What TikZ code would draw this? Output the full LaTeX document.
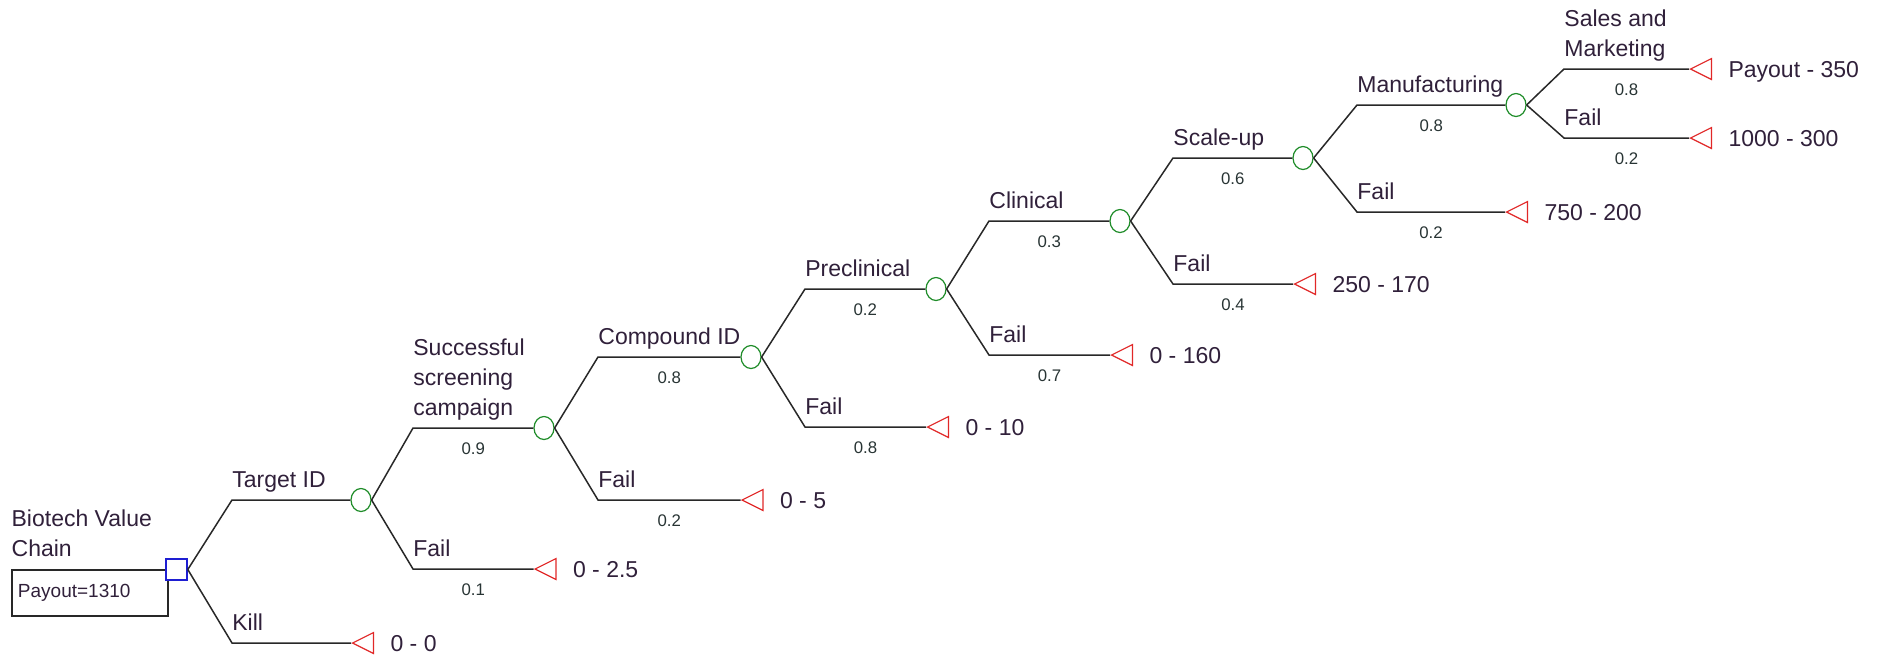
\documentclass[tikz,border=0pt]{standalone}
\usepackage{fontspec}
\setmainfont{Liberation Sans}
\usetikzlibrary{shapes.geometric,positioning}
\definecolor{linegray}{RGB}{40,40,40}
\definecolor{txtdark}{RGB}{48,32,58}
\definecolor{probgray}{RGB}{40,52,52}
\definecolor{decblue}{RGB}{30,30,210}
\definecolor{chancegreen}{RGB}{30,140,40}
\definecolor{endred}{RGB}{225,40,40}
\begin{document}
\begin{tikzpicture}[x=0.5pt,y=-0.5pt,
    branch/.style={draw=linegray,line width=0.75pt},
    decnode/.style={rectangle,draw=decblue,fill=white,line width=0.8pt,minimum size=10.5pt,inner sep=0pt},
    chance/.style={ellipse,draw=chancegreen,fill=white,line width=0.6pt,minimum width=10pt,minimum height=11.5pt,inner sep=0pt},
    endnode/.style={isosceles triangle,isosceles triangle stretches,shape border rotate=180,draw=endred,line width=0.6pt,minimum width=10.5pt,minimum height=10.5pt,inner sep=0pt,anchor=west},
    brlabel/.style={font=\fontsize{11.5}{15}\selectfont,text=txtdark,inner sep=0pt,align=left,text depth=0pt},
    valtext/.style={font=\fontsize{11.5}{14}\selectfont,text=txtdark,inner sep=0pt,text depth=0pt},
    prob/.style={font=\fontsize{8.4}{10}\selectfont,text=probgray,inner sep=0pt,yshift=-10.5pt},
    paybox/.style={draw=linegray,line width=0.75pt,minimum height=23pt,text width=72pt,inner xsep=3pt,inner ysep=0pt,align=left,font=\fontsize{9.5}{11}\selectfont,text=txtdark}]
    \useasboundingbox (0,0) rectangle (1887,655);

    % Decision node with payout box
    \node[paybox] (pay) at (90,593) {Payout=1310};
    \node[brlabel, above right=6pt and 0pt of pay.north west] (title) {Biotech Value\\Chain};
    \node[decnode] (dec) at (176.5,569.5) {};

    % Chance nodes
    \node[chance] (target) at (361,500) {};
    \node[chance] (screen) at (544,428) {};
    \node[chance] (compound) at (751,357) {};
    \node[chance] (preclin) at (936,289) {};
    \node[chance] (clinical) at (1120,221) {};
    \node[chance] (scaleup) at (1303,158) {};
    \node[chance] (manuf) at (1516,105) {};

    % End nodes
    \node[endnode] (e-kill) at (351,643) {};
    \node[endnode] (e-target) at (533.5,569) {};
    \node[endnode] (e-screen) at (740.5,500) {};
    \node[endnode] (e-compound) at (926,427) {};
    \node[endnode] (e-preclin) at (1110,355) {};
    \node[endnode] (e-clinical) at (1293,284) {};
    \node[endnode] (e-scaleup) at (1505,212) {};
    \node[endnode] (e-sales) at (1689,69) {};
    \node[endnode] (e-manuf) at (1689,138) {};

    % Branch corners
    \coordinate (k-target) at (232,500);
    \coordinate (k-kill) at (232,643);
    \coordinate (k-screen) at (413,428);
    \coordinate (k-tfail) at (413,569);
    \coordinate (k-compound) at (598,357);
    \coordinate (k-sfail) at (598,500);
    \coordinate (k-preclin) at (805,289);
    \coordinate (k-cfail) at (805,427);
    \coordinate (k-clinical) at (989,221);
    \coordinate (k-pfail) at (989,355);
    \coordinate (k-scaleup) at (1173,158);
    \coordinate (k-clfail) at (1173,284);
    \coordinate (k-manuf) at (1357,105);
    \coordinate (k-sufail) at (1357,212);
    \coordinate (k-sales) at (1564,69);
    \coordinate (k-mfail) at (1564,138);

    % Branches with probabilities
    \draw[branch] (dec.east) -- (k-target) -- (target.west);
    \draw[branch] (dec.east) -- (k-kill) -- (e-kill.west);
    \draw[branch] (target.east) -- (k-screen) -- node[prob] (p-screen) {0.9} (screen.west);
    \draw[branch] (target.east) -- (k-tfail) -- node[prob] (p-tfail) {0.1} (e-target.west);
    \draw[branch] (screen.east) -- (k-compound) -- node[prob] (p-compound) {0.8} (compound.west);
    \draw[branch] (screen.east) -- (k-sfail) -- node[prob] (p-sfail) {0.2} (e-screen.west);
    \draw[branch] (compound.east) -- (k-preclin) -- node[prob] (p-preclin) {0.2} (preclin.west);
    \draw[branch] (compound.east) -- (k-cfail) -- node[prob] (p-cfail) {0.8} (e-compound.west);
    \draw[branch] (preclin.east) -- (k-clinical) -- node[prob] (p-clinical) {0.3} (clinical.west);
    \draw[branch] (preclin.east) -- (k-pfail) -- node[prob] (p-pfail) {0.7} (e-preclin.west);
    \draw[branch] (clinical.east) -- (k-scaleup) -- node[prob] (p-scaleup) {0.6} (scaleup.west);
    \draw[branch] (clinical.east) -- (k-clfail) -- node[prob] (p-clfail) {0.4} (e-clinical.west);
    \draw[branch] (scaleup.east) -- (k-manuf) -- node[prob] (p-manuf) {0.8} (manuf.west);
    \draw[branch] (scaleup.east) -- (k-sufail) -- node[prob] (p-sufail) {0.2} (e-scaleup.west);
    \draw[branch] (manuf.east) -- (k-sales) -- node[prob] (p-sales) {0.8} (e-sales.west);
    \draw[branch] (manuf.east) -- (k-mfail) -- node[prob] (p-mfail) {0.2} (e-manuf.west);

    % Branch labels
    \node[brlabel, above right=6pt and 0pt of k-target] (l-target) {Target ID};
    \node[brlabel, above right=6pt and 0pt of k-kill] (l-kill) {Kill};
    \node[brlabel, above right=6pt and 0pt of k-screen] (l-screen) {Successful\\screening\\campaign};
    \node[brlabel, above right=6pt and 0pt of k-tfail] (l-tfail) {Fail};
    \node[brlabel, above right=6pt and 0pt of k-compound] (l-compound) {Compound ID};
    \node[brlabel, above right=6pt and 0pt of k-sfail] (l-sfail) {Fail};
    \node[brlabel, above right=6pt and 0pt of k-preclin] (l-preclin) {Preclinical};
    \node[brlabel, above right=6pt and 0pt of k-cfail] (l-cfail) {Fail};
    \node[brlabel, above right=6pt and 0pt of k-clinical] (l-clinical) {Clinical};
    \node[brlabel, above right=6pt and 0pt of k-pfail] (l-pfail) {Fail};
    \node[brlabel, above right=6pt and 0pt of k-scaleup] (l-scaleup) {Scale-up};
    \node[brlabel, above right=6pt and 0pt of k-clfail] (l-clfail) {Fail};
    \node[brlabel, above right=6pt and 0pt of k-manuf] (l-manuf) {Manufacturing};
    \node[brlabel, above right=6pt and 0pt of k-sufail] (l-sufail) {Fail};
    \node[brlabel, above right=6pt and 0pt of k-sales] (l-sales) {Sales and\\Marketing};
    \node[brlabel, above right=6pt and 0pt of k-mfail] (l-mfail) {Fail};

    % End values
    \node[valtext, right=8pt of e-kill] (v-kill) {0 - 0};
    \node[valtext, right=8pt of e-target] (v-target) {0 - 2.5};
    \node[valtext, right=8pt of e-screen] (v-screen) {0 - 5};
    \node[valtext, right=8pt of e-compound] (v-compound) {0 - 10};
    \node[valtext, right=8pt of e-preclin] (v-preclin) {0 - 160};
    \node[valtext, right=8pt of e-clinical] (v-clinical) {250 - 170};
    \node[valtext, right=8pt of e-scaleup] (v-scaleup) {750 - 200};
    \node[valtext, right=8pt of e-sales] (v-sales) {Payout - 350};
    \node[valtext, right=8pt of e-manuf] (v-manuf) {1000 - 300};
\end{tikzpicture}
\end{document}
